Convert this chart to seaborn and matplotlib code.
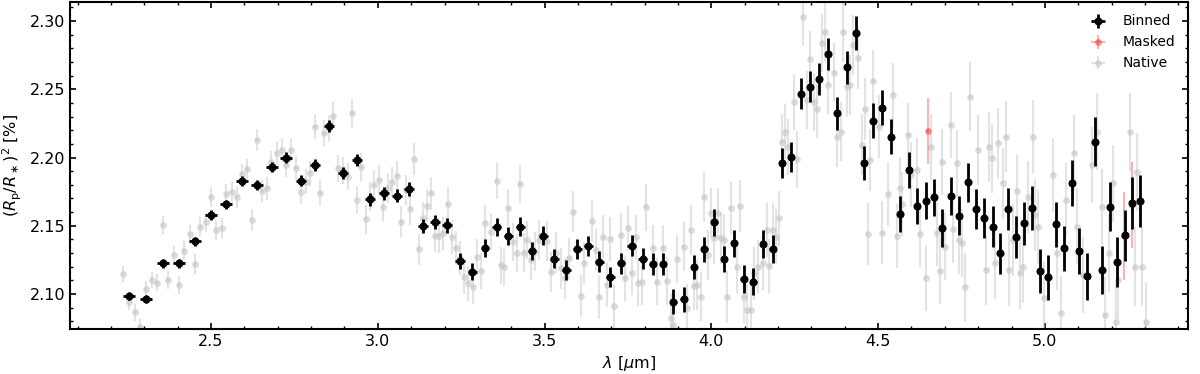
import numpy as np
import matplotlib
matplotlib.use("Agg")
import matplotlib.pyplot as plt
import seaborn as sns

# ---------------- data ----------------
binned_wl = [2.254, 2.304, 2.356, 2.403, 2.452, 2.500, 2.546, 2.592, 2.638, 2.682, 2.726,
             2.770, 2.812, 2.855, 2.896, 2.938, 2.977, 3.019, 3.057, 3.094, 3.135, 3.172, 3.208, 3.246,
             3.283, 3.321, 3.356, 3.391, 3.427, 3.462, 3.496, 3.529, 3.565, 3.598, 3.631, 3.664,
             3.697, 3.729, 3.761, 3.794,
             3.824, 3.855, 3.886, 3.917, 3.948, 3.979, 4.009, 4.038, 4.068, 4.097, 4.126, 4.155, 4.184,
             4.212, 4.240, 4.268, 4.296,
             4.323, 4.351, 4.378, 4.406, 4.433, 4.459, 4.485, 4.512, 4.539, 4.565, 4.592, 4.616, 4.642,
             4.667, 4.692, 4.718, 4.743, 4.768, 4.793, 4.818, 4.843, 4.866,
             4.890, 4.914, 4.938, 4.962, 4.985, 5.009, 5.033, 5.057, 5.080, 5.102, 5.126, 5.149, 5.172,
             5.195, 5.217, 5.239, 5.262, 5.284]
binned_depth = [2.0985, 2.0961, 2.1225, 2.1225, 2.1386, 2.1577, 2.1657, 2.1828, 2.1799, 2.1929, 2.2000,
                2.1830, 2.1945, 2.2231, 2.1889, 2.1982, 2.1694, 2.1738, 2.1720, 2.1771, 2.1500, 2.1527,
                2.1503, 2.1242,
                2.1163, 2.1339, 2.1488, 2.1427, 2.1493, 2.1315, 2.1427, 2.1259, 2.1178, 2.1332, 2.1352,
                2.1237, 2.1125, 2.1225, 2.1354, 2.1259,
                2.1218, 2.1220, 2.0944, 2.0963, 2.1201, 2.1327, 2.1525, 2.1259, 2.1371, 2.1110, 2.1090,
                2.1364, 2.1332,
                2.1957, 2.2004, 2.2467, 2.2518,
                2.2577, 2.2758, 2.2324, 2.2661, 2.2912, 2.1957, 2.2270, 2.2365, 2.2152, 2.1586, 2.1906,
                2.1645, 2.1684, 2.1708, 2.1486, 2.1718, 2.1574, 2.1818, 2.1621, 2.1555, 2.1493, 2.1298,
                2.1623, 2.1418, 2.1518, 2.1628, 2.1168, 2.1122, 2.1511, 2.1335, 2.1815, 2.1315, 2.1132,
                2.2116, 2.1176, 2.1640, 2.1237, 2.1430, 2.1669, 2.1681]
binned_err = [0.0030, 0.0030, 0.0032, 0.0032, 0.0033, 0.0035, 0.0035, 0.0036, 0.0037, 0.0038, 0.0040,
              0.0040, 0.0042, 0.0044, 0.0045, 0.0046, 0.0046, 0.0047, 0.0048, 0.0050, 0.0052, 0.0053,
              0.0054, 0.0056,
              0.0062, 0.0065, 0.0066, 0.0066, 0.0068, 0.0068, 0.0070, 0.0070, 0.0072, 0.0072, 0.0074,
              0.0075, 0.0076, 0.0077, 0.0078, 0.0079,
              0.0080, 0.0082, 0.0090, 0.0092, 0.0088, 0.0094, 0.0098, 0.0096, 0.0098, 0.0100, 0.0100,
              0.0102, 0.0104, 0.0110, 0.0110, 0.0112, 0.0114,
              0.0116, 0.0118, 0.0120, 0.0120, 0.0122, 0.0124, 0.0126, 0.0126, 0.0128, 0.0130, 0.0132,
              0.0134, 0.0136, 0.0138, 0.0140, 0.0140, 0.0142, 0.0144, 0.0146, 0.0148, 0.0150, 0.0152,
              0.0154, 0.0156, 0.0158, 0.0160, 0.0160, 0.0162, 0.0164, 0.0166, 0.0168, 0.0170, 0.0172,
              0.0180, 0.0176, 0.0180, 0.0182, 0.0186, 0.0190, 0.0190]
binned_xerr = [0.018] * 11 + [0.015] * 13 + [0.013] * 16 + [0.010] * 13 + [0.008] * 26 + [0.007] * 18

native_wl = [2.237, 2.254, 2.272, 2.287, 2.304, 2.322, 2.338, 2.355, 2.371, 2.388,
             2.404, 2.420, 2.436, 2.452, 2.468, 2.484, 2.500, 2.516, 2.532, 2.546,
             2.562, 2.578, 2.592, 2.608, 2.622, 2.638, 2.653, 2.668, 2.681, 2.697,
             2.712, 2.726, 2.740, 2.755, 2.769, 2.784, 2.797, 2.812, 2.827, 2.839,
             2.853, 2.867, 2.882, 2.897, 2.910, 2.924, 2.937, 2.950, 2.964, 2.977,
             2.990, 3.004, 3.017, 3.030, 3.043, 3.057, 3.070, 3.084, 3.097, 3.109,
             3.122, 3.134, 3.147, 3.159, 3.171, 3.184, 3.196, 3.209, 3.221, 3.234,
             3.246, 3.259, 3.271, 3.284, 3.296, 3.309, 3.321, 3.338, 3.356, 3.368,
             3.379, 3.391, 3.406, 3.416, 3.426, 3.438, 3.446, 3.460, 3.472, 3.483,
             3.506, 3.519, 3.533, 3.549, 3.561, 3.573, 3.586, 3.609, 3.619, 3.641,
             3.653, 3.664, 3.676, 3.686, 3.697, 3.707, 3.729, 3.741, 3.751, 3.761,
             3.773, 3.781, 3.791, 3.804, 3.826, 3.836, 3.856, 3.866, 3.878, 3.886,
             3.898, 3.917, 3.928, 3.938, 3.948, 3.958, 3.968, 3.978, 3.989, 3.999,
             4.009, 4.019, 4.029, 4.039, 4.048, 4.058, 4.076, 4.086, 4.098, 4.108,
             4.118, 4.129, 4.141, 4.154, 4.166, 4.174, 4.184, 4.194, 4.204, 4.212,
             4.222, 4.231, 4.249, 4.258, 4.276, 4.286, 4.295, 4.307, 4.316, 4.333,
             4.341, 4.351, 4.369, 4.378, 4.389, 4.396, 4.406, 4.416, 4.424, 4.441,
             4.451, 4.461, 4.469, 4.476, 4.486, 4.503, 4.513, 4.531, 4.546, 4.556,
             4.565, 4.573, 4.590, 4.600, 4.616, 4.625, 4.642, 4.658, 4.675, 4.685,
             4.692, 4.700, 4.717, 4.725, 4.735, 4.743, 4.750, 4.760, 4.775, 4.800,
             4.823, 4.833, 4.842, 4.850, 4.860, 4.873, 4.883, 4.892, 4.903, 4.915,
             4.925, 4.933, 4.950, 4.963, 4.970, 4.980, 4.997, 5.025, 5.035, 5.047,
             5.063, 5.087, 5.095, 5.113, 5.140, 5.155, 5.170, 5.180, 5.193, 5.205,
             5.212, 5.220, 5.255, 5.270, 5.275, 5.290, 5.303]
native_depth = [2.1147, 2.0940, 2.0866, 2.0760, 2.1034, 2.1103, 2.1083, 2.1505, 2.1103, 2.1286,
                2.1066, 2.1317, 2.1437, 2.1220, 2.1493, 2.1525, 2.1713, 2.1469, 2.1486, 2.1733,
                2.1749, 2.1708, 2.1879, 2.1913, 2.1542, 2.2128, 2.1757, 2.1774, 2.1969, 2.2031,
                2.2055, 2.1945, 2.2055, 2.1921, 2.1749, 2.1823, 2.1884, 2.2226, 2.1742, 2.2182,
                2.2215, 2.2306, 2.1921, 2.1908, 2.1859, 2.2324, 2.1689, 2.1933, 2.1547, 2.1713,
                2.1799, 2.1835, 2.1640, 2.1774, 2.1823, 2.1867, 2.1530, 2.1762, 2.1620, 2.1989,
                2.1327, 2.1555, 2.1645, 2.1738, 2.1425, 2.1425, 2.1445, 2.1659, 2.1420, 2.1335,
                2.1263, 2.1127, 2.1080, 2.1054, 2.1270, 2.1168, 2.1517, 2.1456, 2.1828, 2.1212,
                2.1195, 2.1633, 2.1383, 2.1298, 2.1806, 2.1303, 2.1396, 2.1249, 2.1310, 2.1396,
                2.1388, 2.1163, 2.1303, 2.1188, 2.1115, 2.1262, 2.1603, 2.0985, 2.1225, 2.1537,
                2.1322, 2.0976, 2.1420, 2.1066, 2.1403, 2.0914, 2.1432, 2.1115, 2.1481, 2.1156,
                2.1415, 2.1078, 2.1090, 2.1635, 2.1335, 2.1090, 2.1335, 2.1097, 2.0822, 2.0773,
                2.1254, 2.1347, 2.0895, 2.1469, 2.1059, 2.1066, 2.0980, 2.1713, 2.1286, 2.1591,
                2.1408, 2.1591, 2.1408, 2.1396, 2.0976, 2.1628, 2.1200, 2.1647, 2.0980, 2.0883,
                2.0883, 2.1152, 2.1200, 2.1230, 2.1469, 2.1205, 2.1469, 2.1420, 2.1555, 2.2116,
                2.2189, 2.2075, 2.2409, 2.1987, 2.3027, 2.2421, 2.2719, 2.2409, 2.2353, 2.2837,
                2.2922, 2.2531, 2.2621, 2.2152, 2.2189, 2.2922, 2.2513, 2.2531, 2.2824, 2.2727,
                2.2092, 2.2353, 2.1440, 2.1982, 2.2563, 2.2226, 2.1449, 2.1733, 2.2458, 2.1425,
                2.1774, 2.1659, 2.2165, 2.1872, 2.1908, 2.1437, 2.1115, 2.2079, 2.1445, 2.1171,
                2.1965, 2.1347, 2.2238, 2.1474, 2.1957, 2.1396, 2.1376, 2.1049, 2.2445, 2.2055,
                2.1176, 2.2079, 2.1994, 2.1225, 2.2104, 2.1811, 2.2152, 2.1176, 2.1396, 2.1757,
                2.1152, 2.1200, 2.1713, 2.2152, 2.1579, 2.1493, 2.0968, 2.1872, 2.1298, 2.0859,
                2.1689, 2.2035, 2.1493, 2.1139, 2.1945, 2.2189, 2.1640, 2.0846, 2.1298, 2.1811,
                2.0797, 2.1103, 2.2189, 2.1200, 2.1896, 2.1200, 2.0797]
native_err = [0.0060, 0.0060, 0.0060, 0.0060, 0.0062, 0.0062, 0.0064, 0.0064, 0.0065, 0.0066,
              0.0066, 0.0068, 0.0068, 0.0070, 0.0070, 0.0072, 0.0072, 0.0073, 0.0074, 0.0075,
              0.0075, 0.0076, 0.0077, 0.0078, 0.0078, 0.0080, 0.0080, 0.0082, 0.0082, 0.0084,
              0.0085, 0.0086, 0.0087, 0.0088, 0.0089, 0.0090, 0.0092, 0.0092, 0.0094, 0.0095,
              0.0096, 0.0097, 0.0098, 0.0099, 0.0100, 0.0101, 0.0102, 0.0103, 0.0104, 0.0105,
              0.0106, 0.0107, 0.0108, 0.0109, 0.0110, 0.0111, 0.0112, 0.0113, 0.0114, 0.0115,
              0.0116, 0.0117, 0.0118, 0.0119, 0.0120, 0.0121, 0.0122, 0.0123, 0.0124, 0.0125,
              0.0126, 0.0127, 0.0128, 0.0129, 0.0130, 0.0131, 0.0132, 0.0133, 0.0134, 0.0135,
              0.0136, 0.0137, 0.0138, 0.0139, 0.0140, 0.0141, 0.0142, 0.0143, 0.0144, 0.0145,
              0.0146, 0.0147, 0.0148, 0.0149, 0.0150, 0.0151, 0.0152, 0.0153, 0.0154, 0.0155,
              0.0155, 0.0158, 0.0156, 0.0160, 0.0158, 0.0162, 0.0160, 0.0163, 0.0165, 0.0164,
              0.0166, 0.0165, 0.0168, 0.0170, 0.0168, 0.0172, 0.0170, 0.0174, 0.0175, 0.0173,
              0.0176, 0.0178, 0.0177, 0.0180, 0.0179, 0.0182, 0.0180, 0.0183, 0.0185, 0.0184,
              0.0186, 0.0185, 0.0188, 0.0187, 0.0190, 0.0189, 0.0192, 0.0191, 0.0194, 0.0193,
              0.0195, 0.0196, 0.0195, 0.0198, 0.0197, 0.0200, 0.0199, 0.0202, 0.0201, 0.0204,
              0.0203, 0.0206, 0.0205, 0.0208, 0.0207, 0.0210, 0.0209, 0.0212, 0.0211, 0.0214,
              0.0213, 0.0216, 0.0215, 0.0218, 0.0217, 0.0220, 0.0219, 0.0222, 0.0221, 0.0224,
              0.0223, 0.0226, 0.0225, 0.0228, 0.0227, 0.0230, 0.0229, 0.0232, 0.0231, 0.0234,
              0.0233, 0.0236, 0.0235, 0.0238, 0.0237, 0.0240, 0.0239, 0.0242, 0.0241, 0.0244,
              0.0243, 0.0246, 0.0245, 0.0248, 0.0247, 0.0250, 0.0249, 0.0252, 0.0251, 0.0254,
              0.0253, 0.0256, 0.0255, 0.0258, 0.0257, 0.0260, 0.0259, 0.0262, 0.0261, 0.0264,
              0.0263, 0.0266, 0.0265, 0.0268, 0.0267, 0.0270, 0.0269, 0.0272, 0.0271, 0.0274,
              0.0273, 0.0276, 0.0275, 0.0278, 0.0277, 0.0280, 0.0279, 0.0282, 0.0281, 0.0284,
              0.0283, 0.0286, 0.0285, 0.0288, 0.0287, 0.0290, 0.0289]
native_xerr = [0.005] * len(native_wl)

masked_wl = [4.648, 5.238, 5.262]
masked_depth = [2.2193, 2.1426, 2.1652]
masked_err = [0.0243, 0.0323, 0.0317]
masked_xerr = [0.004, 0.004, 0.004]

# ---------------- style ----------------
sns.set_style("ticks")
plt.rcParams["font.family"] = ["DejaVu Sans"]
plt.rcParams["font.size"] = 11.5
plt.rcParams["mathtext.fontset"] = "dejavusans"
plt.rcParams["text.color"] = "black"
plt.rcParams["axes.labelcolor"] = "black"
plt.rcParams["axes.edgecolor"] = "black"
plt.rcParams["xtick.color"] = "black"
plt.rcParams["ytick.color"] = "black"
plt.rcParams["xtick.direction"] = "in"
plt.rcParams["ytick.direction"] = "in"
plt.rcParams["xtick.top"] = True
plt.rcParams["ytick.right"] = True
plt.rcParams["axes.linewidth"] = 1.5

fig = plt.figure(figsize=(12, 3.74), dpi=100)
ax = fig.add_axes([0.0583, 0.1203, 0.9317, 0.8744])

ax.errorbar(native_wl, native_depth, yerr=native_err, xerr=native_xerr, fmt="o",
            color="#c8c8c8", alpha=0.5, ms=4, elinewidth=1.5, capsize=0,
            label="Native", zorder=1)
ax.errorbar(masked_wl, masked_depth, yerr=masked_err, xerr=masked_xerr, fmt="o",
            color="red", alpha=0.3, ms=4, elinewidth=1.5, capsize=0,
            label="Masked", zorder=2)
ax.errorbar(binned_wl, binned_depth, yerr=binned_err, xerr=binned_xerr, fmt="o",
            color="black", ms=4.8, elinewidth=2.0, capsize=0,
            label="Binned", zorder=3)

ax.set_xlim(2.077, 5.429)
ax.set_ylim(2.0744, 2.3139)
ax.set_xticks([2.5, 3.0, 3.5, 4.0, 4.5, 5.0])
ax.set_yticks([2.10, 2.15, 2.20, 2.25, 2.30])
ax.minorticks_on()
ax.tick_params(which="both", direction="in", top=True, right=True, labelsize=11.5,
               colors="black")
ax.tick_params(which="major", length=4.5, width=1.2)
ax.tick_params(which="minor", length=2.5, width=1.0)

ax.set_xlabel(r"$\lambda$ [$\mu$m]", fontsize=11.5)
ax.set_ylabel(r"$(R_{\rm p}/R_\ast)^2$ [%]", fontsize=11.5)

handles, labels = ax.get_legend_handles_labels()
order = [labels.index("Binned"), labels.index("Masked"), labels.index("Native")]
ax.legend([handles[i] for i in order], [labels[i] for i in order],
          loc="upper right", frameon=False, fontsize=10)

fig.savefig("out.png", dpi=100)
